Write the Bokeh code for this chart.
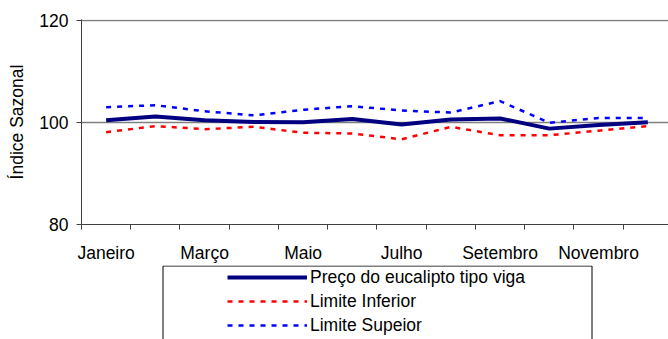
from bokeh.plotting import figure
from bokeh.layouts import column
from bokeh.models import Range1d, FixedTicker, Legend, LegendItem
from bokeh.embed import file_html
from bokeh.resources import INLINE

months = ["Janeiro", "Fevereiro", "Março", "Abril", "Maio", "Junho",
          "Julho", "Agosto", "Setembro", "Outubro", "Novembro", "Dezembro"]
preco = [100.45, 101.2, 100.45, 100.1, 100.05, 100.7, 99.6, 100.6, 100.8, 98.8, 99.5, 100.05]
limite_inferior = [98.1, 99.3, 98.7, 99.15, 98.0, 97.85, 96.7, 99.15, 97.5, 97.5, 98.4, 99.3]
limite_superior = [103.0, 103.4, 102.2, 101.4, 102.5, 103.2, 102.35, 101.95, 104.2, 99.95, 100.9, 100.9]
y_ticks = [80, 100, 120]
series_labels = ["Preço do eucalipto tipo viga", "Limite Inferior", "Limite Supeior"]

FONT = "Liberation Sans"
FS = "17.5px"

STY_PRE = dict(line_color="#000080", line_width=4)
STY_INF = dict(line_color="#FF0000", line_width=2.5, line_dash="5 6")
STY_SUP = dict(line_color="#0000FF", line_width=2.5, line_dash="5 6")

x = [i + 0.5 for i in range(len(months))]

p = figure(width=668, height=265, output_backend="svg", toolbar_location=None,
           x_range=Range1d(0, 11.92), y_range=Range1d(80, 120.2),
           min_border_left=81, min_border_right=0, min_border_top=19, min_border_bottom=41)
p.outline_line_color = None
p.background_fill_color = "white"
p.border_fill_color = "white"

p.line(x, limite_superior, **STY_SUP)
p.line(x, limite_inferior, **STY_INF)
p.line(x, preco, **STY_PRE)

# x axis
p.xaxis.ticker = FixedTicker(ticks=[0.5, 2.5, 4.5, 6.5, 8.5, 10.5],
                             minor_ticks=list(range(12)))
p.xaxis.major_label_overrides = {x[i]: months[i] for i in range(0, 12, 2)}
p.xaxis.major_tick_line_color = None
p.xaxis.major_tick_out = 0
p.xaxis.major_tick_in = 0
p.xaxis.minor_tick_out = 5
p.xaxis.minor_tick_in = 0
p.xaxis.minor_tick_line_color = "#404040"
p.xaxis.axis_line_color = "#404040"
p.xaxis.major_label_text_font = FONT
p.xaxis.major_label_text_font_size = FS
p.xaxis.major_label_text_color = "black"
p.xaxis.major_label_standoff = 13

# y axis
p.yaxis.ticker = FixedTicker(ticks=y_ticks, minor_ticks=[])
p.yaxis.major_tick_out = 5
p.yaxis.major_tick_in = 0
p.yaxis.major_tick_line_color = "#404040"
p.yaxis.axis_line_color = "#404040"
p.yaxis.major_label_text_font = FONT
p.yaxis.major_label_text_font_size = FS
p.yaxis.major_label_text_color = "black"
p.yaxis.major_label_standoff = 8
p.yaxis.axis_label = "Índice Sazonal"
p.yaxis.axis_label_text_font = FONT
p.yaxis.axis_label_text_font_size = FS
p.yaxis.axis_label_text_font_style = "normal"
p.yaxis.axis_label_text_color = "black"
p.yaxis.axis_label_standoff = 9

p.xgrid.grid_line_color = None
p.ygrid.ticker = FixedTicker(ticks=y_ticks)
p.ygrid.grid_line_color = "#808080"
p.ygrid.grid_line_width = 1.5

# legend strip below the chart: x in page pixels (frame is aligned with the chart's frame),
# y measured in pixels from the strip's top
q = figure(width=668, height=74, output_backend="svg", toolbar_location=None,
           x_range=Range1d(81, 668), y_range=Range1d(74, 0),
           x_axis_type=None, y_axis_type=None,
           min_border_left=81, min_border_right=0, min_border_top=0, min_border_bottom=0)
q.outline_line_color = None
q.grid.visible = False
q.background_fill_color = "white"
q.border_fill_color = "white"

q.quad(left=[162.5], right=[591.5], top=[0.5], bottom=[90],
       fill_color="white", line_color="black", line_width=1)

# legend-only copies of the series (their data fall outside this strip's range)
l_pre = q.line(x, preco, **STY_PRE)
l_inf = q.line(x, limite_inferior, **STY_INF)
l_sup = q.line(x, limite_superior, **STY_SUP)

legend = Legend(items=[
    LegendItem(label=series_labels[0], renderers=[l_pre]),
    LegendItem(label=series_labels[1], renderers=[l_inf]),
    LegendItem(label=series_labels[2], renderers=[l_sup]),
], location=(227 - 81, 2))
legend.border_line_color = None
legend.background_fill_alpha = 0
legend.padding = 0
legend.margin = 0
legend.spacing = 0
legend.label_height = 24
legend.glyph_height = 24
legend.glyph_width = 80
legend.label_standoff = 3
legend.label_text_font = FONT
legend.label_text_font_size = FS
legend.label_text_color = "black"
q.add_layout(legend, "center")

layout = column(p, q, spacing=0)
open("out.html", "w").write(file_html(layout, INLINE))
